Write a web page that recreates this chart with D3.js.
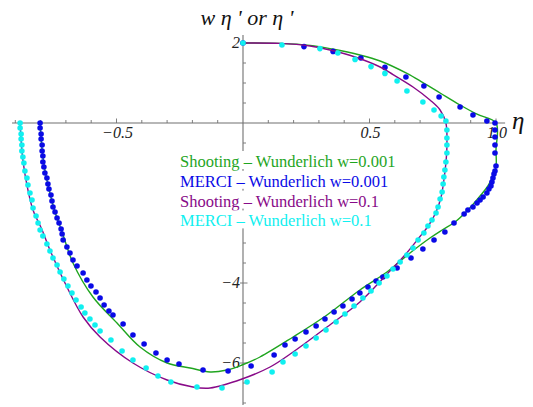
<!DOCTYPE html>
<html><head><meta charset="utf-8">
<script src="https://cdn.jsdelivr.net/npm/d3@7/dist/d3.min.js"></script>
<style>body{margin:0;background:#fff}svg{display:block}</style>
</head><body>
<svg id="chart" width="533" height="407"></svg>
<script>
// ---- data (η, η') ----
const shootingW001 = [
  [0,2.0],[0.146,1.99],[0.265,1.94],[0.352,1.85],[0.462,1.70],[0.542,1.55],[0.648,1.24],[0.711,1.01],
  [0.779,0.75],[0.858,0.45],[0.925,0.22],[1.0,0],[1.0,-0.675],[1.0,-1.1],[0.988,-1.325],[0.968,-1.575],
  [0.937,-1.825],[0.889,-2.175],[0.838,-2.475],[0.787,-2.675],[0.739,-2.875],[0.660,-3.25],[0.569,-3.725],
  [0.462,-4.175],[0.332,-4.8],[0.198,-5.35],[0.067,-5.85],[-0.004,-6.05],[-0.063,-6.175],[-0.130,-6.225],
  [-0.209,-6.125],[-0.300,-6.0],[-0.407,-5.6],[-0.498,-5.0],[-0.593,-4.35],[-0.672,-3.5],[-0.715,-2.725],
  [-0.743,-2.225],[-0.767,-1.65],[-0.783,-1.175],[-0.794,-0.675],[-0.802,0]
];
const merciW001 = [
  [0,2.0],[0.241,1.91],[0.356,1.79],[0.466,1.625],[0.561,1.39],[0.644,1.15],[0.715,0.925],[0.775,0.65],
  [0.858,0.40],[0.909,0.20],[0.964,0.05],[0.996,0],[0.996,-0.175],[0.996,-0.35],[0.996,-0.55],[0.996,-0.75],
  [1.0,-1.075],[0.996,-1.2],[0.992,-1.275],[0.988,-1.375],[0.984,-1.475],[0.980,-1.575],[0.972,-1.65],
  [0.964,-1.75],[0.949,-1.85],[0.937,-1.925],[0.925,-2.0],[0.909,-2.1],[0.889,-2.175],[0.874,-2.275],
  [0.834,-2.5],[0.798,-2.725],[0.755,-2.925],[0.711,-3.15],[0.664,-3.375],[0.609,-3.625],[0.553,-3.85],
  [0.526,-3.95],[0.494,-4.1],[0.462,-4.25],[0.431,-4.4],[0.395,-4.575],[0.360,-4.725],[0.324,-4.9],
  [0.289,-5.075],[0.249,-5.225],[0.206,-5.4],[0.166,-5.55],[0.123,-5.8],[0.032,-6.075],[-0.059,-6.2],
  [-0.158,-6.175],[-0.253,-6.025],[-0.300,-5.925],[-0.344,-5.75],[-0.391,-5.525],[-0.435,-5.3],
  [-0.474,-5.025],[-0.514,-4.8],[-0.530,-4.7],[-0.549,-4.55],[-0.565,-4.375],[-0.581,-4.225],[-0.601,-4.075],
  [-0.617,-3.925],[-0.632,-3.75],[-0.656,-3.575],[-0.672,-3.425],[-0.684,-3.25],[-0.696,-3.1],[-0.711,-2.925],
  [-0.715,-2.775],[-0.719,-2.65],[-0.727,-2.5],[-0.735,-2.375],[-0.743,-2.225],[-0.751,-2.1],[-0.755,-1.95],
  [-0.759,-1.8],[-0.767,-1.65],[-0.771,-1.525],[-0.775,-1.375],[-0.783,-1.25],[-0.787,-1.1],[-0.791,-0.975],
  [-0.791,-0.825],[-0.794,-0.7],[-0.794,-0.55],[-0.798,-0.4],[-0.798,-0.275],[-0.802,-0.125],[-0.802,0]
];
const shootingW01 = [
  [0,2.0],[0.146,1.99],[0.265,1.925],[0.344,1.825],[0.443,1.65],[0.542,1.40],[0.593,1.21],[0.672,0.90],
  [0.739,0.575],[0.779,0.325],[0.802,0],[0.806,-0.55],[0.802,-1.0],[0.794,-1.425],[0.783,-1.85],
  [0.763,-2.225],[0.735,-2.55],[0.698,-2.85],[0.640,-3.3],[0.569,-3.78],[0.462,-4.475],[0.332,-5.1],
  [0.198,-5.725],[0.107,-6.1],[-0.004,-6.4],[-0.130,-6.625],[-0.198,-6.6],[-0.300,-6.425],[-0.435,-6.0],
  [-0.565,-5.35],[-0.632,-4.85],[-0.696,-4.1],[-0.763,-3.175],[-0.794,-2.675],[-0.830,-2.175],
  [-0.854,-1.55],[-0.870,-0.925],[-0.877,-0.425],[-0.881,0]
];
const merciW01 = [
  [0,2.0],[0.154,1.95],[0.304,1.86],[0.375,1.75],[0.443,1.59],[0.506,1.41],[0.561,1.24],[0.609,1.05],
  [0.648,0.80],[0.711,0.525],[0.755,0.325],[0.783,0.175],[0.802,0.05],[0.806,-0.175],[0.806,-0.375],
  [0.806,-0.55],[0.806,-0.75],[0.802,-0.975],[0.798,-1.175],[0.794,-1.35],[0.791,-1.525],[0.787,-1.725],
  [0.779,-1.9],[0.771,-2.1],[0.763,-2.25],[0.747,-2.425],[0.731,-2.575],[0.715,-2.75],[0.692,-2.925],
  [0.672,-3.125],[0.648,-3.3],[0.621,-3.475],[0.593,-3.65],[0.569,-3.825],[0.538,-4.0],[0.506,-4.2],
  [0.474,-4.375],[0.439,-4.575],[0.403,-4.775],[0.368,-4.975],[0.328,-5.175],[0.289,-5.375],[0.249,-5.575],
  [0.206,-5.775],[0.158,-5.975],[0.115,-6.225],[0.016,-6.475],[-0.083,-6.625],[-0.182,-6.6],[-0.285,-6.475],
  [-0.336,-6.325],[-0.383,-6.125],[-0.435,-5.925],[-0.478,-5.7],[-0.522,-5.425],[-0.565,-5.2],[-0.585,-5.05],
  [-0.605,-4.9],[-0.625,-4.75],[-0.640,-4.6],[-0.660,-4.425],[-0.676,-4.25],[-0.692,-4.075],[-0.708,-3.9],
  [-0.723,-3.725],[-0.735,-3.55],[-0.751,-3.375],[-0.763,-3.2],[-0.775,-3.025],[-0.791,-2.825],[-0.802,-2.675],
  [-0.810,-2.5],[-0.818,-2.325],[-0.830,-2.125],[-0.834,-1.925],[-0.842,-1.75],[-0.850,-1.55],[-0.854,-1.375],
  [-0.862,-1.2],[-0.866,-1.0],[-0.870,-0.85],[-0.874,-0.7],[-0.874,-0.55],[-0.877,-0.4],[-0.877,-0.275],
  [-0.881,-0.125],[-0.881,0]
];
const legendLabels = ["Shooting – Wunderlich w=0.001","MERCI – Wunderlich w=0.001","Shooting – Wunderlich w=0.1","MERCI – Wunderlich w=0.1"];
const xTickValues = [-0.5, 0.5, 1.0];
const xTickLabels = ["−0.5", "0.5", "1.0"];
const yTickValues = [-6, -4, -2, 2];
const yLabelValues = [-6, -4, 2];          // the −2 label is hidden behind the legend in the reference
const yTickLabels = ["−6", "−4", "2"];
const xAxisLabel = "η";
const yAxisLabel = "w η ' or η '";

// ---- drawing ----
const svg = d3.select("#chart");
const x = d3.scaleLinear().domain([-1, 1]).range([-10, 496]);
const y = d3.scaleLinear().domain([-7, 2]).range([403, 43]);
const axisColor = "#707070";
const serif = "'Liberation Serif','Times New Roman',serif";

const axes = svg.append("g");
axes.append("line").attr("x1", x(-0.913)).attr("x2", x(1.036)).attr("y1", y(0)).attr("y2", y(0))
  .attr("stroke", axisColor).attr("stroke-width", 1.1);
axes.append("line").attr("x1", x(0)).attr("x2", x(0)).attr("y1", y(2.2)).attr("y2", y(-7.05))
  .attr("stroke", axisColor).attr("stroke-width", 1.1);

const xMinor = d3.range(-9, 11).map(i => i / 10).filter(v => v !== 0);
axes.selectAll("line.xt").data(xMinor).join("line")
  .attr("x1", d => x(d)).attr("x2", d => x(d))
  .attr("y1", y(0)).attr("y2", d => y(0) - (xTickValues.some(t => Math.abs(t - d) < 1e-9) ? 4.5 : 3))
  .attr("stroke", axisColor).attr("stroke-width", 0.9);
const yMinor = d3.range(-14, 5).map(i => i / 2).filter(v => v !== 0);
axes.selectAll("line.yt").data(yMinor).join("line")
  .attr("y1", d => y(d)).attr("y2", d => y(d))
  .attr("x1", d => x(0) - (yTickValues.includes(d) ? 3 : 0)).attr("x2", d => x(0) + (yTickValues.includes(d) ? 4.5 : 3))
  .attr("stroke", axisColor).attr("stroke-width", 0.9);

axes.selectAll("text.xl").data(xTickValues).join("text")
  .attr("x", d => x(d) + 1).attr("y", y(0) + 15)
  .attr("text-anchor", "middle").attr("font-family", serif).attr("font-style", "italic")
  .attr("font-size", 16).attr("fill", "#222").text((d, i) => xTickLabels[i]);
axes.selectAll("text.yl").data(yLabelValues).join("text")
  .attr("x", x(0) - 3).attr("y", d => y(d) + 5)
  .attr("text-anchor", "end").attr("font-family", serif).attr("font-style", "italic")
  .attr("font-size", 16).attr("fill", "#222").text((d, i) => yTickLabels[i]);

svg.append("text").attr("x", 247).attr("y", 25).attr("text-anchor", "middle")
  .attr("font-family", serif).attr("font-style", "italic").attr("font-size", 22).attr("fill", "#111")
  .text(yAxisLabel);
svg.append("text").attr("x", 512).attr("y", 129)
  .attr("font-family", serif).attr("font-style", "italic").attr("font-size", 25).attr("fill", "#111")
  .text(xAxisLabel);

const line = d3.line().x(d => x(d[0])).y(d => y(d[1])).curve(d3.curveCatmullRom.alpha(0.5));
const series = [
  {data: shootingW001, type: "line", color: "#1fa51f"},
  {data: merciW001, type: "dots", color: "#0a0ae6"},
  {data: shootingW01, type: "line", color: "#880a88"},
  {data: merciW01, type: "dots", color: "#10f0f0"}
];
series.forEach(s => {
  if (s.type === "line") {
    svg.append("path").datum(s.data).attr("d", line).attr("fill", "none")
      .attr("stroke", s.color).attr("stroke-width", 1.4);
  } else {
    svg.append("g").selectAll("circle").data(s.data).join("circle")
      .attr("cx", d => x(d[0])).attr("cy", d => y(d[1])).attr("r", 2.8).attr("fill", s.color);
  }
});

const leg = svg.append("g");
const legColors = series.map(s => s.color);
legendLabels.forEach((t, i) => {
  const by = 167 + i * 19.8;
  const g = leg.append("g");
  const rect = g.append("rect").attr("fill", "#fff");
  const txt = g.append("text").attr("x", 180).attr("y", by)
    .attr("font-family", serif).attr("font-size", 16.5).attr("fill", legColors[i]).text(t);
  const w = txt.node().getComputedTextLength();
  rect.attr("x", 179).attr("y", by - 16).attr("width", w + 2).attr("height", 18);
});
</script>
</body></html>
